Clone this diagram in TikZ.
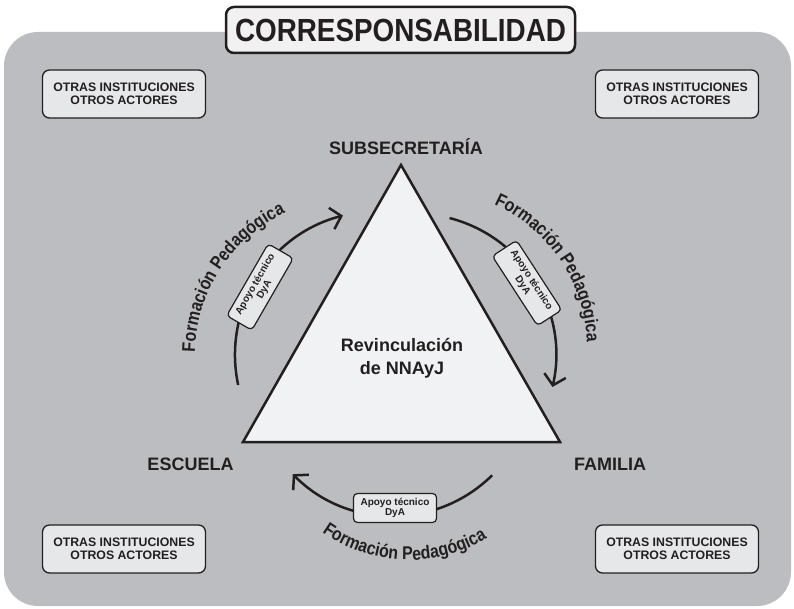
\documentclass[tikz,border=0pt]{standalone}
\usepackage{fontspec}
\setmainfont{Liberation Sans}
\newfontfamily\condfont[FakeStretch=0.86]{Liberation Sans}
\newfontfamily\titlefont[FakeStretch=0.87]{Liberation Sans}
\usetikzlibrary{arrows.meta,decorations.text}
\definecolor{bggray}{HTML}{BCBDC0}
\definecolor{boxfill}{HTML}{E6E7E9}
\definecolor{titlefill}{HTML}{F1F1F2}
\definecolor{trifill}{HTML}{F1F2F4}
\definecolor{ink}{HTML}{231F20}
\newcommand{\arcfont}{\condfont\fontsize{18.5}{19}\selectfont\bfseries}
\tikzset{
  otherbox/.style={draw=ink, line width=1.3pt, fill=boxfill, rounded corners=7pt,
    minimum width=163pt, minimum height=48pt, inner sep=0pt, align=center,
    font=\fontsize{12.3}{13}\selectfont\bfseries, text=ink},
  vlabel/.style={font=\fontsize{18}{20}\selectfont\bfseries, text=ink, inner sep=0pt},
  apoyo/.style={draw=ink, line width=1.2pt, fill=boxfill, rounded corners=4pt,
    minimum width=83pt, minimum height=29pt, inner sep=2pt, align=center,
    font=\fontsize{10}{10.5}\selectfont\bfseries, text=ink},
  flowarc/.style={draw=ink, line width=2.5pt, -{Straight Barb[length=10pt,width=22pt]}},
  arctext/.style={decorate, decoration={text along path, text align=center,
    text color=ink, text={|\arcfont|Formación Pedagógica}}}
}
\begin{document}
\begin{tikzpicture}[x=1pt,y=1pt]
\useasboundingbox (0,0) rectangle (794,608);
\fill[bggray, rounded corners=34pt] (4,2) rectangle (791,576);

% title
\node[draw=ink, line width=2.5pt, fill=titlefill, rounded corners=8pt,
  minimum width=349pt, minimum height=46pt, inner sep=0pt] (title) at (400.5,578)
  {\titlefont\fontsize{32}{32}\selectfont\bfseries\color{ink}CORRESPONSABILIDAD};

% corner boxes
\node[otherbox] (tl) at (124,514) {OTRAS INSTITUCIONES\\OTROS ACTORES};
\node[otherbox] (tr) at (677,514) {OTRAS INSTITUCIONES\\OTROS ACTORES};
\node[otherbox] (bl) at (124,59) {OTRAS INSTITUCIONES\\OTROS ACTORES};
\node[otherbox] (br) at (677,59) {OTRAS INSTITUCIONES\\OTROS ACTORES};

% triangle
\coordinate (tA) at (401,443);
\coordinate (tL) at (243,166);
\coordinate (tR) at (560,166);
\draw[draw=ink, line width=2.5pt, fill=trifill, line join=miter] (tL) -- (tR) -- (tA) -- cycle;

% vertex labels
\node[vlabel, anchor=base] (sub) at (406,453.5) {SUBSECRETARÍA};
\node[vlabel, anchor=base] (esc) at (190.5,137.5) {ESCUELA};
\node[vlabel, anchor=base] (fam) at (610,137.5) {FAMILIA};
\node[vlabel, align=center, font=\fontsize{18}{23}\selectfont\bfseries] (rev) at (402,250) {Revinculación\\de NNAyJ};

% arcs
\coordinate (cL) at (379,253);
\coordinate (cR) at (414,252.5);
\coordinate (cB) at (393,233);
\draw[flowarc] ([shift={(192:144)}]cL) arc[start angle=192, end angle=104.5, radius=144];
\draw[flowarc] ([shift={(75.5:142)}]cR) arc[start angle=75.5, end angle=-12.8, radius=142];
\draw[flowarc] ([shift={(-45.3:141)}]cB) arc[start angle=-45.3, end angle=-135.3, radius=141];

% boxes on arcs
\node[apoyo, rotate=60] (bxL) at (260,321) {Apoyo técnico\\DyA};
\node[apoyo, rotate=-57] (bxR) at (527,325) {Apoyo técnico\\DyA};
\node[apoyo] (bxB) at (395,100) {Apoyo técnico\\DyA};

% curved texts
\coordinate (tcL) at (352,253);
\coordinate (tcR) at (430,260);
\coordinate (tcB) at (409,198);
\path[arctext] ([shift={(200:157)}]tcL) arc[start angle=200, end angle=94, radius=157];
\path[arctext] ([shift={(87:157)}]tcR) arc[start angle=87, end angle=-19, radius=157];
\path[arctext] ([shift={(-130:150)}]tcB) arc[start angle=-130, end angle=-54, radius=150];
\end{tikzpicture}
\end{document}
